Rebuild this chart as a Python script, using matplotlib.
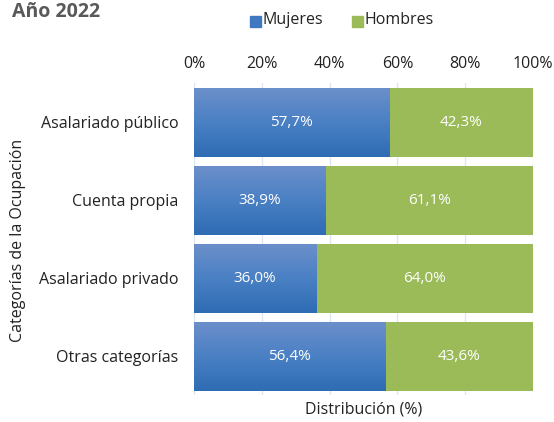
import numpy as np
import matplotlib.pyplot as plt
from matplotlib.colors import LinearSegmentedColormap

categorias = ['Asalariado público', 'Cuenta propia', 'Asalariado privado', 'Otras categorías']
mujeres = [57.7, 38.9, 36.0, 56.4]
hombres = [42.3, 61.1, 64.0, 43.6]
ticks = [0, 20, 40, 60, 80, 100]

plt.rcParams['font.family'] = ['Open Sans', 'DejaVu Sans']

fig = plt.figure(figsize=(5.54, 4.22), dpi=100)
ax = fig.add_axes([0.350, 0.064, 0.612, 0.739])

y = np.arange(len(categorias))
h = 0.885
azul_top, azul_bot = '#6b8fca', '#2e6cb3'
verde = '#9bbb59'

b1 = ax.barh(y, mujeres, height=h, color=azul_bot, zorder=2)
b2 = ax.barh(y, hombres, left=mujeres, height=h, color=verde, zorder=2)

# degradado vertical en las barras azules
cmap = LinearSegmentedColormap.from_list('az', [azul_top, '#4a80c4', azul_bot])
grad = np.linspace(0, 1, 100).reshape(-1, 1)
for p in b1:
    x0, y0 = p.get_x(), p.get_y()
    ax.imshow(grad, cmap=cmap, aspect='auto', zorder=2.5,
              extent=[x0, x0 + p.get_width(), y0 + p.get_height(), y0])

for i in range(len(categorias)):
    ax.text(mujeres[i] / 2, y[i], f'{mujeres[i]:.1f}%'.replace('.', ','),
            ha='center', va='center', color='white', fontsize=11, zorder=3)
    ax.text(mujeres[i] + hombres[i] / 2, y[i], f'{hombres[i]:.1f}%'.replace('.', ','),
            ha='center', va='center', color='white', fontsize=11, zorder=3)

ax.set_xlim(0, 100)
ax.set_ylim(len(categorias) - 0.5, -0.5)
ax.set_xticks(ticks)
ax.set_xticklabels([f'{t}%' for t in ticks])
ax.xaxis.tick_top()
ax.tick_params(axis='x', length=0, pad=8, labelsize=11.5, colors='#222222')
ax.set_yticks(y)
ax.set_yticklabels(categorias)
ax.tick_params(axis='y', length=0, pad=11, labelsize=11.5, colors='#222222')
ax.grid(axis='x', color='#dce6f2', linewidth=1, zorder=0)
for s in ax.spines.values():
    s.set_visible(False)

ax.set_xlabel('Distribución (%)', fontsize=11.5, color='#222222', labelpad=5)
fig.text(18 / 554, 1 - 240 / 422, 'Categorías de la Ocupación', rotation=90,
         ha='center', va='center', fontsize=11.5, color='#222222')

fig.text(12 / 554, 1 - 12 / 422, 'Año 2022', fontsize=14, fontweight='bold',
         color='#595959', ha='left', va='center')

# leyenda
fig.patches.append(plt.Rectangle((250 / 554, 1 - 27 / 422), 11 / 554, 11 / 422,
                                 transform=fig.transFigure, color='#3f78c0', figure=fig))
fig.text(263 / 554, 1 - 20 / 422, 'Mujeres', fontsize=11.5, color='#222222', va='center')
fig.patches.append(plt.Rectangle((352 / 554, 1 - 27 / 422), 11 / 554, 11 / 422,
                                 transform=fig.transFigure, color=verde, figure=fig))
fig.text(365 / 554, 1 - 20 / 422, 'Hombres', fontsize=11.5, color='#222222', va='center')

fig.savefig('out.png', dpi=100)
